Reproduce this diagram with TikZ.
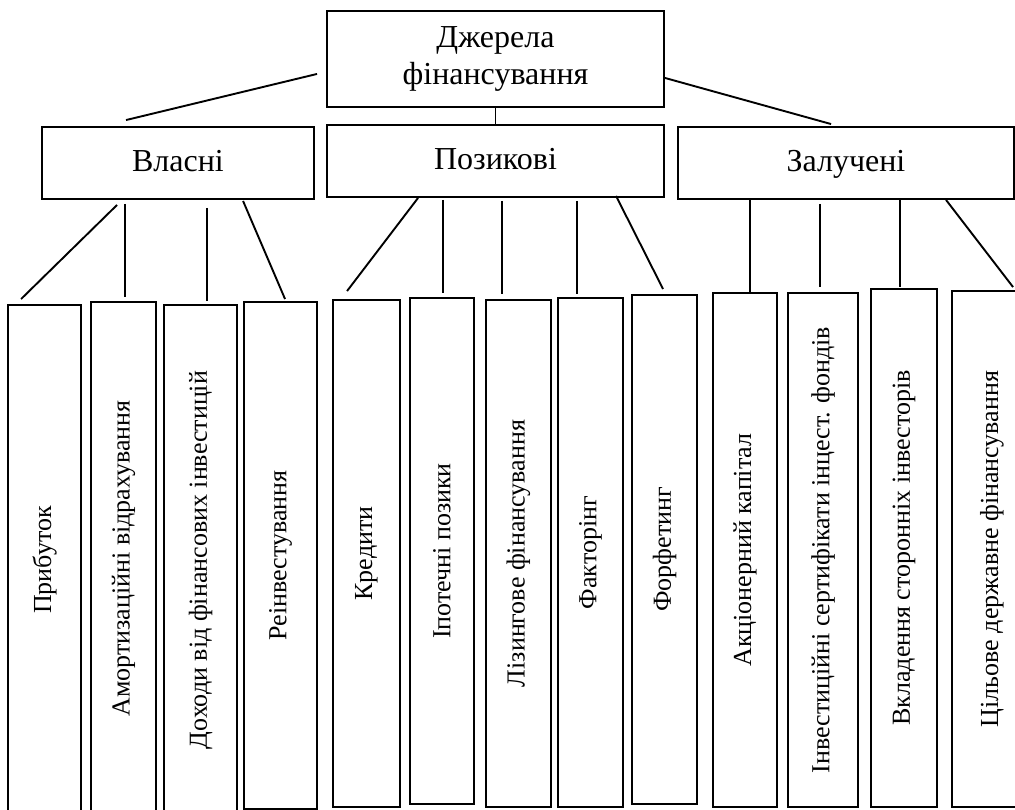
\documentclass[tikz,border=0pt]{standalone}
\usepackage{fontspec}
\setmainfont{Liberation Serif}
\usetikzlibrary{positioning}

\tikzset{
head/.style={
  rectangle,
  draw,
  line width=1.9pt,
  align=center,
  inner sep=0pt,
  font=\fontsize{32}{37}\selectfont,
},
group/.style={
  head,
  minimum height=72,
  text depth=0.35em,
},
leaf/.style={
  rectangle,
  draw,
  line width=1.9pt,
  inner sep=0pt,
  font=\fontsize{26}{30}\selectfont,
},
link/.style={line width=1.9pt},
}

\begin{document}
\begin{tikzpicture}[x=1pt, y=-1pt]
\useasboundingbox (0,0) rectangle (1015,810);
\fill[white] (0,0) rectangle (1015,810);
\clip (0,0) rectangle (1015,810);

%root
\node[head, minimum width=337, minimum height=96](dzherela) at (495.5,59) {Джерела\\фінансування};

%groups
\node[group, minimum width=272](vlasni) at (178,163) {Власні};
\node[group, minimum width=337](pozykovi) at (495.5,161) {Позикові};
\node[group, minimum width=336](zalucheni) at (846,163) {Залучені};

%leaves of Власні
\node[leaf, minimum width=73, minimum height=510](prybutok) at (44.5,560) {\rotatebox{90}{Прибуток}};
\node[leaf, minimum width=65, minimum height=513](amort) at (123.5,558.5) {\rotatebox{90}{Амортизаційні відрахування}};
\node[leaf, minimum width=73, minimum height=510](dokhody) at (200.5,560) {\rotatebox{90}{Доходи від фінансових інвестицій}};
\node[leaf, minimum width=73, minimum height=507](reinvest) at (280.5,555.5) {\rotatebox{90}{Реінвестування}};

%leaves of Позикові
\node[leaf, minimum width=67, minimum height=507](kredyty) at (366.5,553.5) {\rotatebox{90}{Кредити}};
\node[leaf, minimum width=64, minimum height=506](ipoteka) at (442,551) {\rotatebox{90}{Іпотечні позики}};
\node[leaf, minimum width=65, minimum height=507](lizynh) at (518.5,553.5) {\rotatebox{90}{Лізингове фінансування}};
\node[leaf, minimum width=65, minimum height=509](faktorynh) at (590.5,552.5) {\rotatebox{90}{Факторінг}};
\node[leaf, minimum width=65, minimum height=509](forfetynh) at (664.5,549.5) {\rotatebox{90}{Форфетинг}};

%leaves of Залучені
\node[leaf, minimum width=64, minimum height=514](aktsii) at (745,550) {\rotatebox{90}{Акціонерний капітал}};
\node[leaf, minimum width=70, minimum height=514](sertyf) at (823,550) {\rotatebox{90}{Інвестиційні сертифікати інцест. фондів}};
\node[leaf, minimum width=66, minimum height=518](vkladennia) at (904,548) {\rotatebox{90}{Вкладення сторонніх інвесторів}};
\node[leaf, minimum width=80, minimum height=516](tsilove) at (992,549) {\rotatebox{90}{Цільове державне фінансування}};

%root to groups
\draw[link]([shift={(-9,-34)}]dzherela.south west) -- ([shift={(85,-6)}]vlasni.north west);
\draw[link](dzherela) -- (pozykovi);
\draw[link]([shift={(0,-30)}]dzherela.south east) -- ([shift={(154,-2)}]zalucheni.north west);

%Власні
\draw[link]([shift={(76,5)}]vlasni.south west) -- ([shift={(14,-5)}]prybutok.north west);
\draw[link]([shift={(84,4)}]vlasni.south west) -- ([shift={(35,-4)}]amort.north west);
\draw[link]([shift={(166,8)}]vlasni.south west) -- ([shift={(44,-3)}]dokhody.north west);
\draw[link]([shift={(202,1)}]vlasni.south west) -- ([shift={(42,-2)}]reinvest.north west);

%Позикові
\draw[link]([shift={(92,0)}]pozykovi.south west) -- ([shift={(15,-8)}]kredyty.north west);
\draw[link]([shift={(117,2)}]pozykovi.south west) -- ([shift={(34,-4)}]ipoteka.north west);
\draw[link]([shift={(176,3)}]pozykovi.south west) -- ([shift={(17,-5)}]lizynh.north west);
\draw[link]([shift={(251,3)}]pozykovi.south west) -- ([shift={(20,-3)}]faktorynh.north west);
\draw[link]([shift={(290,-2)}]pozykovi.south west) -- ([shift={(32,-5)}]forfetynh.north west);

%Залучені
\draw[link]([shift={(73,0)}]zalucheni.south west) -- ([shift={(38,0)}]aktsii.north west);
\draw[link]([shift={(143,4)}]zalucheni.south west) -- ([shift={(33,-5)}]sertyf.north west);
\draw[link]([shift={(223,0)}]zalucheni.south west) -- ([shift={(30,-1)}]vkladennia.north west);
\draw[link]([shift={(269,0)}]zalucheni.south west) -- ([shift={(62,-3)}]tsilove.north west);

\end{tikzpicture}
\end{document}
